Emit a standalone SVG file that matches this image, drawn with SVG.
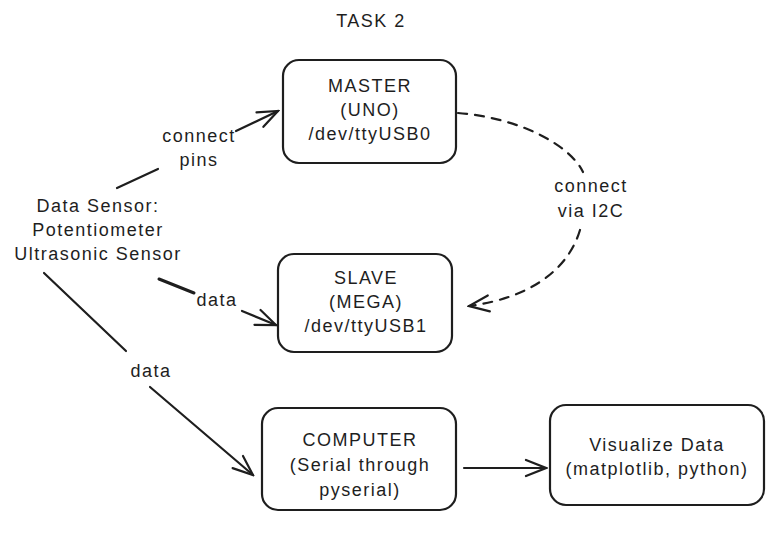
<svg xmlns="http://www.w3.org/2000/svg" width="771" height="533" viewBox="0 0 771 533">
<style>
text{font-family:"Liberation Sans",Arial,sans-serif;font-size:18px;letter-spacing:1.5px;fill:#1e1e1e;text-anchor:middle}
.box{fill:#fff;stroke:#1e1e1e;stroke-width:2.2}
.ln{fill:none;stroke:#1e1e1e;stroke-width:2.2;stroke-linecap:round}
.dash{stroke-dasharray:9 8}
</style>
<defs>
<marker id="ah" viewBox="0 0 24 20" refX="22" refY="10" markerWidth="24" markerHeight="20" markerUnits="userSpaceOnUse" orient="auto">
<path d="M2,2 L22,10 L2,18" fill="none" stroke="#1e1e1e" stroke-width="2.2" stroke-linecap="round"/>
</marker>
</defs>
<rect width="771" height="533" fill="#fff"/>
<text x="371" y="27">TASK 2</text>
<g id="sensor">
<text x="98" y="212">Data Sensor:</text>
<text x="98" y="236">Potentiometer</text>
<text x="98" y="260">Ultrasonic Sensor</text>
</g>
<g id="master">
<rect class="box" x="283" y="60" width="173" height="103" rx="16"/>
<text x="370" y="92">MASTER</text>
<text x="370" y="116">(UNO)</text>
<text x="370" y="140">/dev/ttyUSB0</text>
</g>
<g id="slave">
<rect class="box" x="278" y="254" width="174" height="98" rx="16"/>
<text x="366" y="284">SLAVE</text>
<text x="366" y="308">(MEGA)</text>
<text x="366" y="332">/dev/ttyUSB1</text>
</g>
<g id="computer">
<rect class="box" x="262" y="408" width="194" height="102" rx="16"/>
<text x="360" y="446">COMPUTER</text>
<text x="360" y="471">(Serial through</text>
<text x="360" y="496">pyserial)</text>
</g>
<g id="visualize">
<rect class="box" x="550" y="405" width="214" height="100" rx="16"/>
<text x="657" y="451">Visualize Data</text>
<text x="657" y="475">(matplotlib, python)</text>
</g>
<g id="connectors">
<path class="ln" d="M117,188 L158,169"/>
<path class="ln" d="M236,131 L278,111" marker-end="url(#ah)"/>
<text x="199" y="142">connect</text>
<text x="199" y="166">pins</text>
<path class="ln" style="stroke-width:3" d="M159,279 L194,293"/>
<path class="ln" d="M242,311 L276,325" marker-end="url(#ah)"/>
<text x="217" y="306">data</text>
<path class="ln" d="M44,273 L126,351"/>
<path class="ln" d="M150,387 L253,475" marker-end="url(#ah)"/>
<text x="151" y="377">data</text>
<path class="ln" d="M464,468 L546,468" marker-end="url(#ah)"/>
<path class="ln dash" d="M458,113 C520,118 570,145 583,172"/>
<path class="ln dash" d="M580,230 C568,270 530,298 469,306" marker-end="url(#ah)"/>
<text x="591" y="192">connect</text>
<text x="591" y="217">via I2C</text>
</g>
</svg>
